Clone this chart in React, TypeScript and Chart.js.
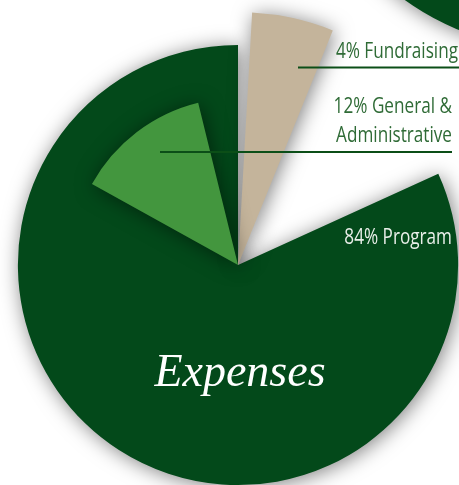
import React, { useEffect, useRef } from "react";
import { Chart, registerables } from "chart.js";
Chart.register(...registerables);

// ---- data ----
const categories = ["Program", "General & Administrative", "Fundraising"];
const percentages = [84, 12, 4];
// back layer: [gap, Program] — angular extent in degrees (clockwise from top) and relative radius
const backAngles = [65.5, 294.5];
const backValues = [0, 87];
// front layer: [gap, Fundraising, gap, General & Administrative, gap]
const frontAngles = [3.2, 18.8, 277, 47.2, 13.8];
const frontValues = [0, 100, 0, 66, 0];
// neighbouring (cut-off) pie in the corner
const cornerValues = [1];

const DARK = "#03491a";
const LIGHT = "#43963e";
const BEIGE = "#c4b49b";
const TEXT = "#2f6b36";
const LINE = "#0b4e17";

const shadowPlugin = {
  id: "shadow",
  beforeDatasetDraw(chart: any) {
    const ctx = chart.ctx;
    ctx.save();
    ctx.shadowColor = "rgba(0,0,0,0.5)";
    ctx.shadowBlur = 20;
    ctx.shadowOffsetX = 2;
    ctx.shadowOffsetY = 2;
  },
  afterDatasetDraw(chart: any) {
    chart.ctx.restore();
  },
};

function condensedText(ctx: any, text: string, x: number, y: number, color: string, size = 22) {
  ctx.save();
  ctx.translate(x, y);
  ctx.scale(0.78, 1);
  ctx.font = `400 ${size}px "Open Sans", sans-serif`;
  ctx.fillStyle = color;
  ctx.textAlign = "right";
  ctx.textBaseline = "alphabetic";
  ctx.fillText(text, 0, 0);
  ctx.restore();
}

const labelPlugin = {
  id: "labels",
  afterDatasetsDraw(chart: any) {
    const ctx = chart.ctx;
    const s = chart.scales.r;
    const cx = s.xCenter;
    const cy = s.yCenter;
    // leader lines
    ctx.save();
    ctx.strokeStyle = LINE;
    ctx.lineWidth = 2;
    ctx.beginPath();
    ctx.moveTo(cx + 60, cy - 197.5);
    ctx.lineTo(cx + 230, cy - 197.5);
    ctx.moveTo(cx - 78, cy - 113);
    ctx.lineTo(cx + 214, cy - 113);
    ctx.stroke();
    ctx.restore();

    condensedText(ctx, `${percentages[2]}% ${categories[2]}`, cx + 220, cy - 207.5, TEXT);
    condensedText(ctx, `${percentages[1]}% General &`, cx + 214, cy - 152.5, TEXT);
    condensedText(ctx, `Administrative`, cx + 214, cy - 123.5, TEXT);
    condensedText(ctx, `${percentages[0]}% ${categories[0]}`, cx + 214, cy - 21, "#e9efe9");

    ctx.save();
    ctx.font = `italic 46px "Liberation Serif", serif`;
    ctx.fillStyle = "#ffffff";
    ctx.textAlign = "center";
    ctx.fillText("Expenses", cx + 2, cy + 121);
    ctx.restore();
  },
};

export default function App() {
  const mainRef = useRef<HTMLCanvasElement>(null);
  const cornerRef = useRef<HTMLCanvasElement>(null);

  useEffect(() => {
    const main = new Chart(mainRef.current!, {
      type: "polarArea",
      data: {
        labels: ["", categories[2], "", categories[1], ""],
        datasets: [
          {
            label: "front",
            data: frontValues,
            order: 0,
            angle: (c: any) => frontAngles[c.dataIndex],
            backgroundColor: ["rgba(0,0,0,0)", BEIGE, "rgba(0,0,0,0)", LIGHT, "rgba(0,0,0,0)"],
            borderWidth: 0,
          } as any,
          {
            label: "back",
            data: backValues,
            order: 1,
            angle: (c: any) => backAngles[c.dataIndex],
            backgroundColor: ["rgba(0,0,0,0)", DARK],
            borderWidth: 0,
          } as any,
        ],
      },
      options: {
        animation: false,
        responsive: false,
        devicePixelRatio: 1,
        startAngle: 0,
        layout: { padding: 27 },
        events: [],
        scales: {
          r: { display: false, min: 0, max: 100, startAngle: 0 } as any,
        },
        plugins: { legend: { display: false }, tooltip: { enabled: false } },
      } as any,
      plugins: [shadowPlugin, labelPlugin],
    });

    const corner = new Chart(cornerRef.current!, {
      type: "pie",
      data: {
        labels: ["Revenue"],
        datasets: [{ data: cornerValues, backgroundColor: [DARK], borderWidth: 0 }],
      },
      options: {
        animation: false,
        responsive: false,
        devicePixelRatio: 1,
        layout: { padding: 30 },
        events: [],
        plugins: { legend: { display: false }, tooltip: { enabled: false } },
      } as any,
      plugins: [shadowPlugin],
    });

    return () => {
      main.destroy();
      corner.destroy();
    };
  }, []);

  return (
    <div
      style={{
        position: "fixed",
        left: 0,
        top: 0,
        width: 459,
        height: 485,
        overflow: "hidden",
        background: "#ffffff",
      }}
    >
      <canvas
        ref={cornerRef}
        width={560}
        height={560}
        style={{ position: "absolute", left: 272, top: -482, width: 560, height: 560 }}
      />
      <canvas
        ref={mainRef}
        width={560}
        height={560}
        style={{ position: "absolute", left: -42, top: -15, width: 560, height: 560 }}
      />
    </div>
  );
}
